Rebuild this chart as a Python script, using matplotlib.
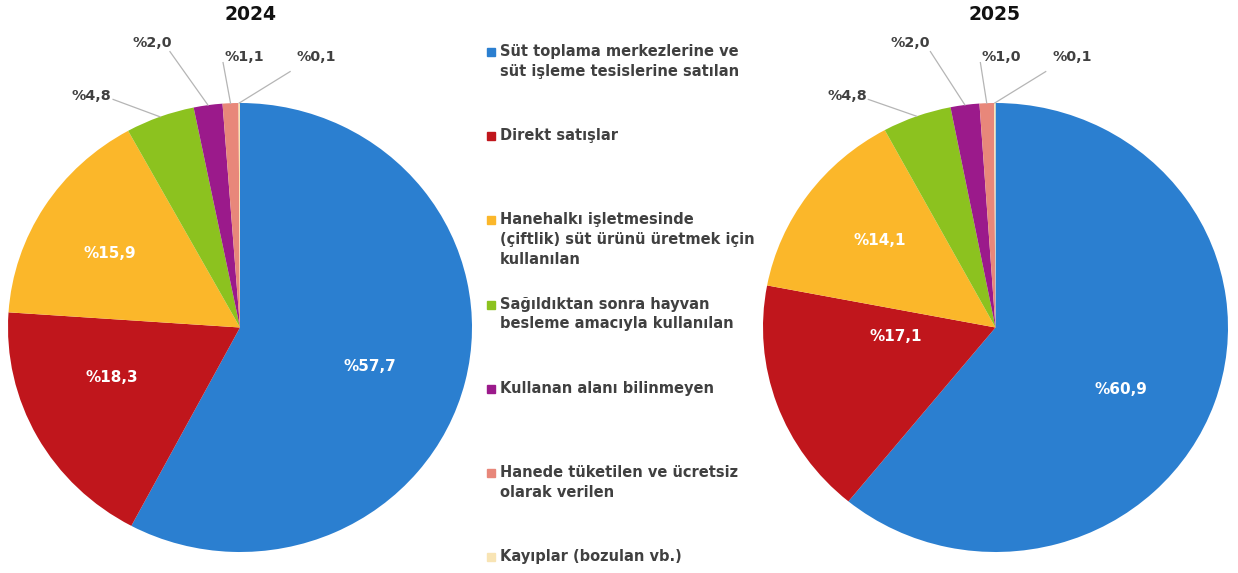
import matplotlib
matplotlib.use("Agg")
import matplotlib.pyplot as plt
import numpy as np

categories = [
    "Süt toplama merkezlerine ve\nsüt işleme tesislerine satılan",
    "Direkt satışlar",
    "Hanehalkı işletmesinde\n(çiftlik) süt ürünü üretmek için\nkullanılan",
    "Sağıldıktan sonra hayvan\nbesleme amacıyla kullanılan",
    "Kullanan alanı bilinmeyen",
    "Hanede tüketilen ve ücretsiz\nolarak verilen",
    "Kayıplar (bozulan vb.)",
]
values_2024 = [57.7, 18.3, 15.9, 4.8, 2.0, 1.1, 0.1]
values_2025 = [60.9, 17.1, 14.1, 4.8, 2.0, 1.0, 0.1]
labels_2024 = ["%57,7", "%18,3", "%15,9", "%4,8", "%2,0", "%1,1", "%0,1"]
labels_2025 = ["%60,9", "%17,1", "%14,1", "%4,8", "%2,0", "%1,0", "%0,1"]
years = ["2024", "2025"]

colors = ["#2b7fd0", "#c0161c", "#fbb72a", "#8cc21f", "#9b1a8b", "#e8877a", "#f8e4b4"]
text_gray = "#404040"

W, H = 1238, 573
plt.rcParams['font.family'] = ['DejaVu Sans']
fig = plt.figure(figsize=(W / 100, H / 100), dpi=100)

# pixel layout for the two pies: (left px, right px, top px, bottom px)
pie_boxes = [(8, 472, 103, 552), (763, 1228, 103, 552)]
title_x = [251, 995]
# label positions in data coords: inside labels (x, y); outside labels (x, y, line start x, line start y)
label_pos = [
    [(0.56, -0.174), (-0.552, -0.223), (-0.560, 0.330),
     (-0.642, 1.029, -0.547, 1.016), (-0.379, 1.269, -0.302, 1.229),
     (0.017, 1.203, -0.073, 1.180), (0.328, 1.203, 0.216, 1.140)],
    [(0.539, -0.276), (-0.427, -0.040), (-0.496, 0.388),
     (-0.638, 1.029, -0.547, 1.016), (-0.366, 1.269, -0.280, 1.229),
     (0.026, 1.203, -0.065, 1.180), (0.332, 1.203, 0.216, 1.140)],
]

for k, (vals, labs, box) in enumerate(zip([values_2024, values_2025], [labels_2024, labels_2025], pie_boxes)):
    l, r, t, b = box
    ax = fig.add_axes([l / W, 1 - b / H, (r - l) / W, (b - t) / H])
    wedges, _ = ax.pie(vals, colors=colors, startangle=90, counterclock=False, radius=1,
                       wedgeprops=dict(linewidth=0))
    ax.set_aspect('auto')
    ax.set_xlim(-1, 1)
    ax.set_ylim(-1, 1)
    ax.axis('off')
    fig.text(title_x[k] / W, 1 - 15 / H, years[k], ha='center', va='center',
             fontsize=13.5, fontweight='bold', color='#111111')
    for i, (w, lab) in enumerate(zip(wedges, labs)):
        pos = label_pos[k][i]
        if len(pos) == 2:
            ax.text(pos[0], pos[1], lab, ha='center', va='center',
                    color='white', fontsize=11, fontweight='bold')
        else:
            tx, ty, sx, sy = pos
            ang = np.deg2rad((w.theta1 + w.theta2) / 2)
            ex, ey = np.cos(ang), np.sin(ang)
            ax.text(tx, ty, lab, ha='center', va='center', color=text_gray,
                    fontsize=10.3, fontweight='bold')
            ax.plot([sx, ex], [sy, ey], color='#b5b5b5', lw=0.9, clip_on=False)

# legend (manual, evenly spaced entries)
for i, (cat, c) in enumerate(zip(categories, colors)):
    cy = 52 + i * 84.2
    fig.patches.append(plt.Rectangle((487 / W, 1 - (cy + 4) / H), 8 / W, 8 / H,
                                     transform=fig.transFigure, color=c, figure=fig))
    fig.text(500 / W, 1 - (cy - 8) / H, cat, ha='left', va='top', fontsize=10.5,
             fontweight='bold', color=text_gray, linespacing=1.38)

fig.savefig("out.png", dpi=100, facecolor='white')
